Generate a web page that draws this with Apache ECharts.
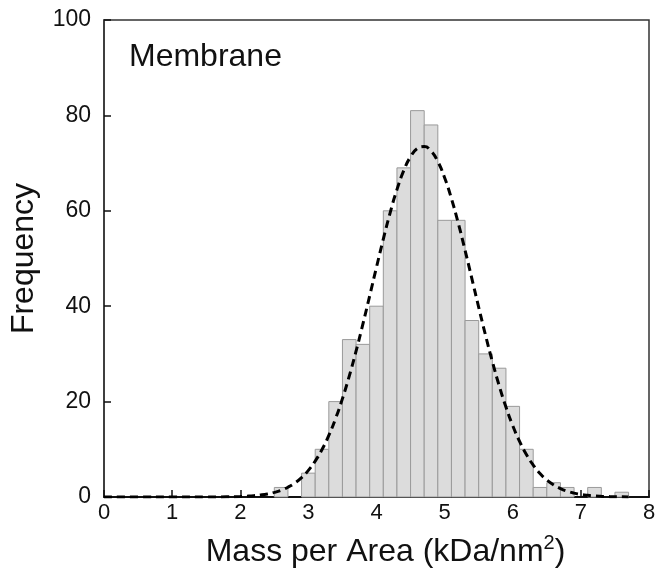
<!DOCTYPE html>
<html><head><meta charset="utf-8">
<script src="https://cdn.jsdelivr.net/npm/echarts@6/dist/echarts.min.js"></script>
<style>html,body{margin:0;padding:0;background:#fff}#c{width:662px;height:578px}</style>
</head><body><div id="c"></div>
<script>
// Histogram bins (centers, bin width 0.2)
const binCenters = [2.6, 2.8, 3.0, 3.2, 3.4, 3.6, 3.8, 4.0, 4.2, 4.4, 4.6, 4.8, 5.0, 5.2, 5.4, 5.6, 5.8, 6.0, 6.2, 6.4, 6.6, 6.8, 7.0, 7.2, 7.4, 7.6];
const binCounts  = [2,   0,   5,   10,  20,  33,  32,  40,  60,  69,  81,  78,  58,  58,  37,  30,  27,  19,  10,  2,   3,   2,   0,   2,   0,   1];
const binWidth = 0.2;
// Fitted curve (dashed)
const fitX = [0,0.5,1.0,1.5,1.8,2.0,2.1,2.2,2.3,2.4,2.5,2.6,2.7,2.8,2.9,3.0,3.1,3.2,3.3,3.4,3.5,3.6,3.7,3.8,3.9,4.0,4.1,4.2,4.3,4.4,4.5,4.6,4.7,4.8,4.9,5.0,5.1,5.2,5.3,5.4,5.5,5.6,5.7,5.8,5.9,6.0,6.1,6.2,6.3,6.4,6.5,6.6,6.7,6.8,6.9,7.0,7.1,7.2,7.3,7.4,7.5,7.6,7.7];
const fitY = [0,0,0,0,0.04,0.10,0.17,0.27,0.42,0.64,0.96,1.41,2.05,2.92,4.07,5.59,7.53,9.95,12.91,16.47,20.62,25.34,30.58,36.24,42.18,48.19,54.07,59.58,64.44,68.42,71.35,73.07,73.47,72.54,70.32,66.94,62.56,57.42,51.74,45.78,39.78,33.94,28.42,23.38,18.88,14.97,11.66,8.91,6.70,4.93,3.57,2.54,1.77,1.21,0.82,0.54,0.35,0.22,0.14,0.09,0.05,0.03,0.02];
const xTicks = [0,1,2,3,4,5,6,7,8];
const yTicks = [0,20,40,60,80,100];

const chart = echarts.init(document.getElementById('c'), null, {renderer:'canvas'});
const font = '"Liberation Sans", Arial, sans-serif';
chart.setOption({
  animation: false,
  backgroundColor: '#fff',
  grid: {left: 102, right: 13, top: 20, bottom: 81, show: true, borderColor: '#333', borderWidth: 1.5, backgroundColor: 'transparent'},
  xAxis: {
    type: 'value', min: xTicks[0], max: xTicks[xTicks.length-1], interval: 1,
    axisLine: {show: true, onZero: false, lineStyle: {color: '#111', width: 2}},
    axisTick: {show: true, inside: true, length: 7, lineStyle: {color: '#111', width: 1.5}},
    axisLabel: {color: '#111', fontSize: 22, fontFamily: font, margin: 5},
    splitLine: {show: false},
    name: '{a|Mass per Area (kDa/nm}{s|2}{a|)}',
    nameLocation: 'middle', nameGap: 36,
    nameTextStyle: {padding: [0, 0, 0, 18], rich: {
      a: {fontSize: 32, fontFamily: font, color: '#111'},
      s: {fontSize: 20, fontFamily: font, color: '#111', padding: [0,0,18,0]}
    }}
  },
  yAxis: {
    type: 'value', min: yTicks[0], max: yTicks[yTicks.length-1], interval: 20,
    axisLine: {show: true, lineStyle: {color: '#333', width: 1.5}},
    axisTick: {show: true, inside: true, length: 7, lineStyle: {color: '#111', width: 1.5}},
    axisLabel: {color: '#111', fontSize: 23, fontFamily: font, margin: 13},
    splitLine: {show: false},
    name: 'Frequency', nameLocation: 'middle', nameGap: 64, nameRotate: 90,
    nameTextStyle: {fontSize: 32, fontFamily: font, color: '#111'}
  },
  graphic: [{type: 'text', left: 129, top: 41, style: {text: 'Membrane', font: '32px ' + font, fill: '#111'}}],
  series: [
    {
      type: 'custom',
      data: binCenters.map((c, i) => [c, binCounts[i]]),
      renderItem: function (params, api) {
        const c = api.value(0), v = api.value(1);
        if (v <= 0) return null;
        const p1 = api.coord([c - binWidth/2, v]);
        const p2 = api.coord([c + binWidth/2, 0]);
        return {type: 'rect', shape: {x: p1[0], y: p1[1], width: p2[0]-p1[0], height: p2[1]-p1[1]},
          style: {fill: '#dcdcdc', stroke: '#9a9a9a', lineWidth: 1}};
      },
      z: 2
    },
    {
      type: 'line', data: fitX.map((x, i) => [x, fitY[i]]), smooth: true, showSymbol: false,
      lineStyle: {color: '#000', width: 3, type: [8, 5]}, z: 3
    }
  ]
});
</script></body></html>
